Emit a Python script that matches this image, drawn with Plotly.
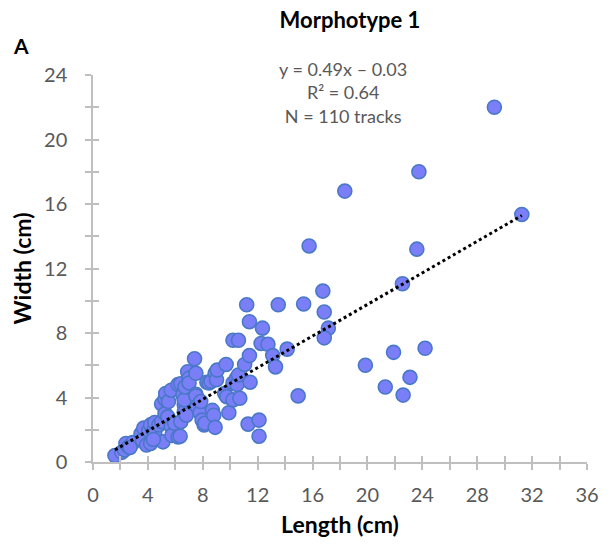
import plotly.graph_objects as go

# Data: track length (cm) and width (cm), Morphotype 1
length_cm = [1.6, 2.1, 2.3, 2.4, 2.6, 2.9, 3.5, 3.6, 3.7, 3.9, 4.05, 4.2, 4.2, 4.4, 4.5, 4.5, 4.8, 5.0, 5.0, 5.1,
             5.25, 5.25, 5.3, 5.45, 5.5, 5.7, 5.7, 5.75, 5.95, 6.2, 6.2, 6.35, 6.4, 6.4, 6.55, 6.65, 6.65, 6.65, 6.7, 6.8,
             6.9, 7.0, 7.0, 7.4, 7.5, 7.5, 7.5, 7.6, 7.8, 7.85, 7.95, 8.1, 8.15, 8.3, 8.45, 8.6, 8.7, 8.8, 8.9, 8.9,
             9.0, 9.05, 9.6, 9.7, 9.75, 9.9, 10.2, 10.2, 10.2, 10.45, 10.5, 10.6, 10.6, 10.7, 11.05, 11.2, 11.3, 11.4, 11.4, 11.45,
             12.1, 12.1, 12.25, 12.35, 12.75, 13.1, 13.3, 13.5, 14.15, 14.95, 15.35, 15.75, 16.75, 16.85, 17.15, 16.85, 18.35, 19.85, 21.3, 21.9,
             22.6, 22.55, 23.1, 23.6, 23.75, 24.2, 29.25, 31.25, 2.7, 4.4]
width_cm = [0.4, 0.6, 0.75, 1.15, 0.95, 1.2, 1.75, 1.35, 2.1, 1.05, 1.95, 2.3, 1.15, 1.9, 2.45, 1.75, 2.3, 2.5, 3.6, 1.25,
            3.0, 3.9, 4.25, 2.8, 3.75, 4.45, 2.2, 1.65, 2.4, 4.8, 1.55, 1.6, 2.5, 4.85, 4.15, 3.55, 3.1, 3.85, 4.65, 2.9,
            5.6, 5.2, 4.9, 6.4, 5.5, 4.2, 4.1, 3.45, 3.05, 3.75, 2.6, 2.3, 2.4, 4.95, 4.9, 5.0, 3.2, 2.9, 2.15, 5.5,
            5.1, 5.7, 4.25, 6.05, 4.05, 3.05, 3.85, 4.9, 7.55, 5.2, 4.8, 7.55, 5.4, 3.95, 6.05, 9.75, 2.35, 8.7, 6.6, 4.95,
            2.6, 1.6, 7.35, 8.3, 7.3, 6.6, 5.9, 9.75, 7.0, 4.1, 9.8, 13.4, 10.6, 9.3, 8.3, 7.7, 16.8, 6.0, 4.65, 6.8,
            4.15, 11.05, 5.25, 13.2, 18.0, 7.05, 22.0, 15.35, 0.9, 1.4]

# Linear trendline reported on the chart
slope = 0.49
intercept = -0.03
trend_x = [min(length_cm), max(length_cm)]
trend_y = [slope * v + intercept for v in trend_x]

x_ticks = [0, 4, 8, 12, 16, 20, 24, 28, 32, 36]
y_ticks = [0, 4, 8, 12, 16, 20, 24]

FONT = "Lato"
GREY = "#595959"
AXIS = "#bfbfbf"

fig = go.Figure()
fig.add_trace(go.Scatter(
    x=length_cm, y=width_cm, mode="markers",
    marker=dict(size=14, color="#7b7ff7", line=dict(color="#4a78c8", width=1.6)),
    showlegend=False, hoverinfo="x+y"))
fig.add_trace(go.Scatter(
    x=trend_x, y=trend_y, mode="lines",
    line=dict(color="black", width=3, dash="dot"),
    showlegend=False, hoverinfo="skip"))

W, H = 611, 547
L, R, T, B = 93, 12, 75, 85
pw, ph = W - L - R, H - T - B

common_axis = dict(showgrid=False, zeroline=False, showline=True, linecolor=AXIS, linewidth=1.5,
                   tickcolor=AXIS, tickwidth=1.5, ticklen=6, ticks="outside",
                   tickfont=dict(family=FONT, size=20, color=GREY))

fig.update_layout(
    width=W, height=H, margin=dict(l=L, r=R, t=T, b=B),
    paper_bgcolor="white", plot_bgcolor="white",
    font=dict(family=FONT),
    title=dict(text="<b>Morphotype 1</b>", x=(L + pw / 2 + 4) / W, xanchor="center",
               y=1 - 20 / H, yanchor="middle", font=dict(family=FONT, size=22, color="black")),
    xaxis=dict(range=[0, 36], tickvals=x_ticks, ticklabelstandoff=8,
               minor=dict(dtick=2, ticks="outside", ticklen=6, tickcolor=AXIS, tickwidth=1.5),
               title=dict(text="<b>Length (cm)</b>", font=dict(family=FONT, size=23, color="black"), standoff=12),
               **common_axis),
    yaxis=dict(range=[0, 24], tickvals=y_ticks, ticklabelstandoff=14,
               minor=dict(dtick=2, ticks="outside", ticklen=6, tickcolor=AXIS, tickwidth=1.5),
               title=dict(text="<b>Width (cm)</b>", font=dict(family=FONT, size=23, color="black"), standoff=6),
               **common_axis),
    xaxis2=dict(range=[0, 36], overlaying="x", showgrid=False, zeroline=False, showline=False,
                tickvals=x_ticks, ticks="inside", ticklen=6, tickcolor=AXIS, tickwidth=1.5, showticklabels=False,
                minor=dict(dtick=2, ticks="inside", ticklen=6, tickcolor=AXIS, tickwidth=1.5)),
    yaxis2=dict(range=[0, 24], overlaying="y", showgrid=False, zeroline=False, showline=False,
                tickvals=y_ticks, ticks="inside", ticklen=6, tickcolor=AXIS, tickwidth=1.5, showticklabels=False,
                minor=dict(dtick=2, ticks="inside", ticklen=6, tickcolor=AXIS, tickwidth=1.5)),
)
# invisible trace to activate the overlay axes (crossing ticks)
fig.add_trace(go.Scatter(x=[None], y=[None], xaxis="x2", yaxis="y2", showlegend=False, hoverinfo="skip"))

fig.add_annotation(text="y = 0.49x – 0.03<br>R² = 0.64<br>N = 110 tracks",
                   xref="paper", yref="paper", x=(349 - L) / pw, y=1 - (93 - T) / ph, yanchor="middle",
                   showarrow=False, align="center", font=dict(family=FONT, size=18, color=GREY))
fig.add_annotation(text="<b>A</b>", xref="paper", yref="paper",
                   x=(19 - L) / pw, y=1 + (T - 45) / ph, xanchor="center", yanchor="middle",
                   showarrow=False, font=dict(family=FONT, size=21, color="black"))

fig.write_html("out.html")
